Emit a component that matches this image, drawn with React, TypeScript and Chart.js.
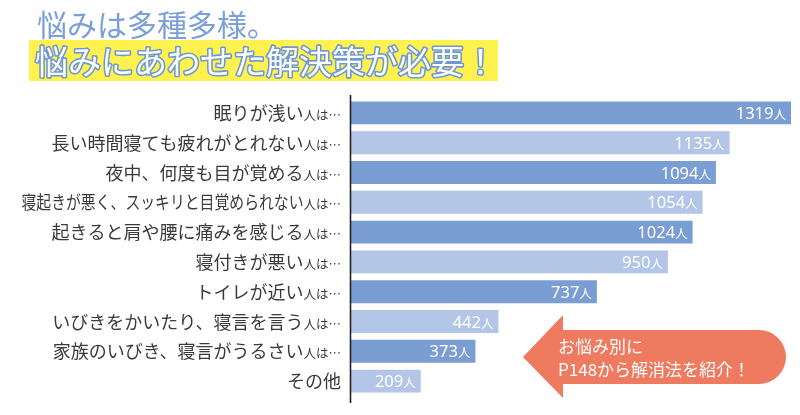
import React, { useEffect, useRef } from "react";
import { Chart, registerables } from "chart.js";

Chart.register(...registerables);

const categories = [
  "眠りが浅い",
  "長い時間寝ても疲れがとれない",
  "夜中、何度も目が覚める",
  "寝起きが悪く、スッキリと目覚められない",
  "起きると肩や腰に痛みを感じる",
  "寝付きが悪い",
  "トイレが近い",
  "いびきをかいたり、寝言を言う",
  "家族のいびき、寝言がうるさい",
  "その他",
];
const suffixes = ["人は…", "人は…", "人は…", "人は…", "人は…", "人は…", "人は…", "人は…", "人は…", ""];
const values = [1319, 1135, 1094, 1054, 1024, 950, 737, 442, 373, 209];
const valueUnit = "人";
const titleLine1 = "悩みは多種多様。";
const titleLine2 = "悩みにあわせた解決策が必要！";
const calloutLines = ["お悩み別に", "P148から解消法を紹介！"];

const DARK = "#7a9dd3";
const LIGHT = "#b3c6e7";
const TITLE_BLUE = "#7b9fd6";
const YELLOW = "#fff24f";
const SALMON = "#ee7a60";
const TEXT = "#3a3a3a";
const JP = '"Noto Sans CJK JP", "Noto Sans", sans-serif';

const decorPlugin = {
  id: "decor",
  afterDatasetsDraw(chart: any) {
    const ctx = chart.ctx as CanvasRenderingContext2D;
    const yScale = chart.scales.y;
    const area = chart.chartArea;
    ctx.save();

    // axis line
    ctx.strokeStyle = "#222";
    ctx.lineWidth = 1.6;
    ctx.beginPath();
    ctx.moveTo(area.left - 0.5, area.top - 3);
    ctx.lineTo(area.left - 0.5, area.bottom + 7);
    ctx.stroke();

    // category labels
    const rightEdge = area.left - 10;
    categories.forEach((c, i) => {
      const y = yScale.getPixelForValue(i);
      const base = y + 7;
      ctx.textBaseline = "alphabetic";
      ctx.textAlign = "right";
      ctx.fillStyle = TEXT;
      let x = rightEdge;
      const suf = suffixes[i];
      if (suf) {
        ctx.font = `12.5px ${JP}`;
        ctx.fillText(suf, x, base);
        x -= ctx.measureText(suf).width;
      }
      ctx.font = `18px ${JP}`;
      ctx.fillText(c, x, base, 282);
    });

    // value labels
    const meta = chart.getDatasetMeta(0);
    meta.data.forEach((bar: any, i: number) => {
      const base = bar.y + 6;
      let x = bar.x - 5;
      ctx.fillStyle = "#ffffff";
      ctx.textAlign = "right";
      ctx.textBaseline = "alphabetic";
      ctx.font = `12.5px ${JP}`;
      ctx.fillText(valueUnit, x, base);
      x -= ctx.measureText(valueUnit).width;
      ctx.font = `16.5px "Noto Sans", sans-serif`;
      ctx.fillText(String(values[i]), x, base);
    });

    // title
    ctx.textAlign = "left";
    ctx.textBaseline = "middle";
    ctx.font = `30px ${JP}`;
    ctx.fillStyle = TITLE_BLUE;
    ctx.fillText(titleLine1, 37, 25);

    ctx.fillStyle = YELLOW;
    ctx.fillRect(29, 40, 469, 41);
    ctx.font = `33px ${JP}`;
    ctx.lineJoin = "round";
    ctx.lineWidth = 3.2;
    ctx.strokeStyle = "#6f98d3";
    ctx.strokeText(titleLine2, 35, 61);
    ctx.fillStyle = "#ffffff";
    ctx.fillText(titleLine2, 35, 61);

    // callout arrow
    const tipX = 523, tipY = 357;
    const headX = 563, headTop = 315, headBot = 398;
    const bodyTop = 330, bodyBot = 384, bodyRight = 786;
    const r = (bodyBot - bodyTop) / 2;
    ctx.fillStyle = SALMON;
    ctx.beginPath();
    ctx.moveTo(tipX, tipY);
    ctx.lineTo(headX, headTop);
    ctx.lineTo(headX, bodyTop);
    ctx.lineTo(bodyRight - r, bodyTop);
    ctx.arc(bodyRight - r, bodyTop + r, r, -Math.PI / 2, Math.PI / 2);
    ctx.lineTo(headX, bodyBot);
    ctx.lineTo(headX, headBot);
    ctx.closePath();
    ctx.fill();

    ctx.fillStyle = "#ffffff";
    ctx.font = `17px ${JP}`;
    ctx.textBaseline = "middle";
    ctx.fillText(calloutLines[0], 558, 347);
    ctx.fillText(calloutLines[1], 558, 370);

    ctx.restore();
  },
};

export default function App() {
  const ref = useRef<HTMLCanvasElement | null>(null);
  useEffect(() => {
    if (!ref.current) return;
    const chart = new Chart(ref.current, {
      type: "bar",
      data: {
        labels: categories,
        datasets: [
          {
            data: values,
            backgroundColor: values.map((_, i) => (i % 2 === 0 ? DARK : LIGHT)),
            borderWidth: 0,
            barPercentage: 0.77,
            categoryPercentage: 1,
          },
        ],
      },
      options: {
        indexAxis: "y",
        animation: false,
        responsive: false,
        layout: { padding: { left: 351, right: 9, top: 98, bottom: 19 } },
        plugins: { legend: { display: false }, tooltip: { enabled: false }, title: { display: false } },
        scales: {
          x: { display: false, min: 0, max: 1319 },
          y: { display: false },
        },
      },
      plugins: [decorPlugin],
    });
    return () => chart.destroy();
  }, []);
  return (
    <div style={{ position: "fixed", left: 0, top: 0, width: 800, height: 415, background: "#fff" }}>
      <canvas ref={ref} width={800} height={415} style={{ display: "block" }} />
    </div>
  );
}
